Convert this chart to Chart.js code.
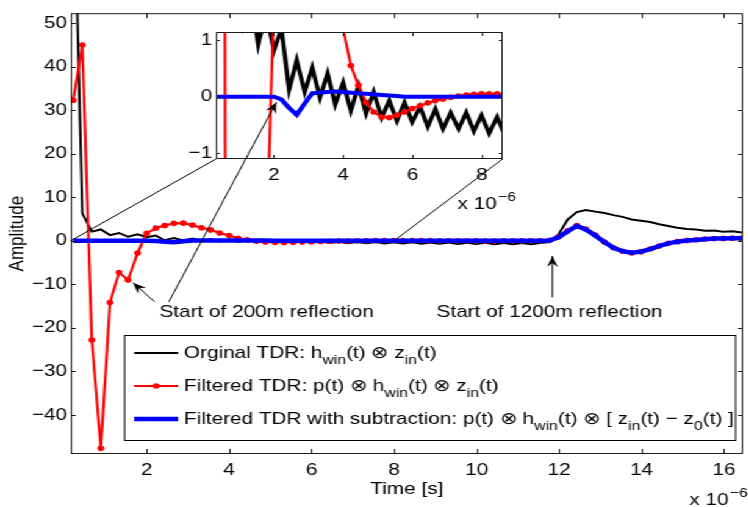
<!DOCTYPE html>
<html>
<head>
<meta charset="utf-8">
<script src="https://cdn.jsdelivr.net/npm/chart.js@4.4.1/dist/chart.umd.min.js"></script>
<style>
  html, body { margin: 0; padding: 0; background: #fff; overflow: hidden; }
  /* the reference figure is stretched sideways, so we draw narrower and widen it */
  #wrap { position: relative; width: 613px; height: 507px; transform: scaleX(1.22); transform-origin: 0 0; }
  #wrap canvas { position: absolute; left: 0; top: 0; }
</style>
</head>
<body>
<div id="wrap">
  <canvas id="main" width="613" height="507"></canvas>
  <canvas id="inset" width="613" height="507"></canvas>
</div>
<script>
// time axis in microseconds (axis shows "x 10^-6")
const timeUs = [0.22, 0.44, 0.67, 0.89, 1.11, 1.33, 1.55, 1.78, 2.00, 2.22,
  2.44, 2.66, 2.89, 3.11, 3.33, 3.55, 3.77, 4.00, 4.22, 4.44,
  4.66, 4.88, 5.11, 5.33, 5.55, 5.77, 5.99, 6.22, 6.44, 6.66,
  6.88, 7.10, 7.33, 7.55, 7.77, 7.99, 8.21, 8.44, 8.66, 8.88,
  9.10, 9.32, 9.55, 9.77, 9.99, 10.21, 10.43, 10.66, 10.88, 11.10,
  11.32, 11.54, 11.77, 11.99, 12.21, 12.43, 12.65, 12.88, 13.10, 13.32,
  13.54, 13.76, 13.99, 14.21, 14.43, 14.65, 14.87, 15.10, 15.32, 15.54,
  15.76, 15.98, 16.21, 16.43];

const originalTdr = [90, 6.3, 2.1, 2.6, 1.3, 1.8, 0.92, 1.5, 0.81, 1.2,
  0.12, 0.64, 0.08, 0.51, -0.02, 0.41, -0.14, 0.25, -0.25, 0.19,
  -0.30, 0.08, -0.37, -0.07, -0.43, -0.10, -0.45, -0.18, -0.53, -0.22,
  -0.57, -0.28, -0.57, -0.28, -0.61, -0.33, -0.65, -0.36, -0.68, -0.40,
  -0.70, -0.42, -0.72, -0.45, -0.75, -0.45, -0.78, -0.50, -0.78, -0.50,
  -0.80, -0.52, -0.30, 1.5, 4.9, 6.6, 7.05, 6.7, 6.4, 5.9,
  5.5, 4.9, 4.6, 4.3, 3.8, 3.4, 3.0, 2.7, 2.6, 2.3,
  2.35, 2.1, 2.2, 1.9];

const filteredTdr = [32.3, 45, -22.8, -47.7, -14.2, -7.3, -9.0, -2.8, 1.7, 2.9,
  3.5, 4.0, 4.05, 3.6, 3.0, 2.5, 1.8, 1.2, 0.55, 0.2,
  -0.1, -0.27, -0.36, -0.37, -0.33, -0.27, -0.21, -0.16, -0.11, -0.07,
  -0.04, -0.01, 0.01, 0.03, 0.04, 0.05, 0.05, 0.05, 0.04, 0.03,
  0.02, 0.01, 0, -0.02, -0.03, -0.04, -0.04, -0.03, -0.02, -0.01,
  0, 0, 0.1, 0.9, 2.3, 3.5, 2.7, 1.3, -0.3, -1.6,
  -2.4, -2.8, -2.5, -1.9, -1.2, -0.6, -0.2, 0.05, 0.25, 0.4,
  0.5, 0.55, 0.6, 0.6];

const subtractedTdr = [0, 0, 0, 0, 0, 0, 0, 0, 0, -0.05,
  -0.2, -0.32, -0.12, 0.06, 0.07, 0.08, 0.09, 0.08, 0.07, 0.06,
  0.05, 0.04, 0.03, 0.02, 0.01, 0, 0, 0, 0, 0,
  0, 0, 0, 0, 0, 0, 0, 0, 0, 0,
  0, 0, 0, 0, 0, 0, 0, 0, 0, 0,
  0, 0, 0.05, 0.8, 2.2, 3.4, 2.6, 1.2, -0.3, -1.6,
  -2.4, -2.75, -2.5, -1.9, -1.2, -0.6, -0.2, 0.05, 0.2, 0.35,
  0.5, 0.55, 0.6, 0.6];

const mainXTicks = [2, 4, 6, 8, 10, 12, 14, 16];
const mainYTicks = [-40, -30, -20, -10, 0, 10, 20, 30, 40, 50];
const insetXTicks = [2, 4, 6, 8];
const insetYTicks = [-1, 0, 1];

const FAMILY = '"Liberation Sans", Arial, Helvetica, sans-serif';
const FONT = { family: FAMILY, size: 17 };
const FONT_CSS = '17px ' + FAMILY;
const SUB_CSS = '13px ' + FAMILY;

const legendItems = [
  { color: '#000000', width: 2, dot: false,
    parts: [['Orginal TDR: h'], ['win', 1], ['(t) \u2297 z'], ['in', 1], ['(t)']] },
  { color: '#ff0000', width: 2.2, dot: true,
    parts: [['Filtered TDR: p(t) \u2297 h'], ['win', 1], ['(t) \u2297 z'], ['in', 1], ['(t)']] },
  { color: '#0000ff', width: 4.5, dot: false,
    parts: [['Filtered TDR with subtraction: p(t) \u2297 h'], ['win', 1], ['(t) \u2297 [ z'], ['in', 1], ['(t) \u2212 z'], ['0', 1], ['(t) ]']] }
];

function toPoints(values) {
  return values.map((v, i) => ({ x: timeUs[i], y: v }));
}
function minus(v) {
  return String(v).replace('-', '\u2212');
}

function makeDatasets(blackW, blueW) {
  return [
    { label: 'Orginal TDR', data: toPoints(originalTdr), borderColor: '#000000',
      borderWidth: blackW, pointRadius: 0, clip: 0, order: 3 },
    { label: 'Filtered TDR', data: toPoints(filteredTdr), borderColor: '#ff0000',
      backgroundColor: '#ff0000', borderWidth: 2.2, pointRadius: 2.8, pointBorderWidth: 0, clip: 0, order: 2 },
    { label: 'Filtered TDR with subtraction', data: toPoints(subtractedTdr), borderColor: '#0000ff',
      borderWidth: blueW, pointRadius: 0, clip: 0, order: 1 }
  ];
}

function makeScale(min, max, ticks, fit, pad, extra) {
  return Object.assign({
    type: 'linear', min: min, max: max,
    grid: { display: false, drawTicks: false },
    border: { display: false },
    afterBuildTicks: s => { s.ticks = ticks.map(v => ({ value: v })); },
    afterFit: fit,
    ticks: { font: FONT, color: '#000', padding: pad, maxRotation: 0, autoSkip: false, callback: minus }
  }, extra);
}

function framePlugin(tickLen) {
  return {
    id: 'frame',
    afterDatasetsDraw(chart) {
      const { ctx, chartArea: a, scales: { x, y } } = chart;
      ctx.save();
      ctx.strokeStyle = '#1a1a1a';
      ctx.lineWidth = 1;
      ctx.beginPath();
      x.ticks.forEach(t => {
        const px = Math.round(x.getPixelForValue(t.value)) + 0.5;
        ctx.moveTo(px, a.bottom); ctx.lineTo(px, a.bottom - tickLen);
        ctx.moveTo(px, a.top); ctx.lineTo(px, a.top + tickLen);
      });
      y.ticks.forEach(t => {
        const py = Math.round(y.getPixelForValue(t.value)) + 0.5;
        ctx.moveTo(a.left, py); ctx.lineTo(a.left + tickLen * 0.8, py);
        ctx.moveTo(a.right, py); ctx.lineTo(a.right - tickLen * 0.8, py);
      });
      ctx.stroke();
      ctx.strokeRect(a.left + 0.5, a.top + 0.5, a.right - a.left - 1, a.bottom - a.top - 1);
      ctx.restore();
    }
  };
}

function timesTen(ctx, x, y) {
  ctx.font = FONT_CSS;
  ctx.textAlign = 'left';
  ctx.textBaseline = 'alphabetic';
  ctx.fillStyle = '#000';
  ctx.fillText('x 10', x, y);
  const w = ctx.measureText('x 10').width;
  ctx.font = SUB_CSS;
  ctx.fillText('\u22126', x + w + 1, y - 8);
}

function richText(ctx, x, y, parts) {
  let cx = x;
  parts.forEach(p => {
    ctx.font = p[1] ? SUB_CSS : FONT_CSS;
    ctx.fillText(p[0], cx, p[1] ? y + 7 : y);
    cx += ctx.measureText(p[0]).width;
  });
}

function arrow(ctx, x1, y1, x2, y2, head) {
  ctx.beginPath();
  ctx.moveTo(x1, y1);
  ctx.lineTo(x2, y2);
  ctx.stroke();
  if (!head) return;
  const ang = Math.atan2(y2 - y1, x2 - x1);
  const c = Math.cos(ang), s = Math.sin(ang);
  const L = 11, W = 4.5, notch = 7;
  ctx.beginPath();
  ctx.moveTo(x2, y2);
  ctx.lineTo(x2 - L * c - W * s, y2 - L * s + W * c);
  ctx.lineTo(x2 - notch * c, y2 - notch * s);
  ctx.lineTo(x2 - L * c + W * s, y2 - L * s - W * c);
  ctx.closePath();
  ctx.fill();
}

const mainChart = new Chart('main', {
  type: 'line',
  data: { datasets: makeDatasets(2, 4.5) },
  options: {
    responsive: false,
    animation: false,
    events: [],
    layout: { padding: { top: 13, right: 2, left: 0, bottom: 0 } },
    plugins: { legend: { display: false }, tooltip: { enabled: false } },
    scales: {
      x: makeScale(0.16, 16.46, mainXTicks, s => { s.height = 53; }, 6, {
        title: { display: true, text: 'Time [s]', color: '#000', font: FONT, padding: { top: 0, bottom: 7 } }
      }),
      y: makeScale(-49, 52.3, mainYTicks, s => { s.width = 58; }, 3, {
        title: { display: true, text: 'Amplitude', color: '#000', font: FONT, padding: { top: 4, bottom: 0 } }
      })
    }
  },
  plugins: [framePlugin(5), {
    id: 'legendBox',
    afterDraw(chart) {
      const { ctx, chartArea: a } = chart;
      ctx.save();
      const left = 101.6, top = 335, right = 602.5, bottom = 440;
      ctx.fillStyle = '#fff';
      ctx.fillRect(left, top, right - left, bottom - top);
      ctx.strokeStyle = '#000';
      ctx.lineWidth = 1;
      ctx.strokeRect(left + 0.5, top + 0.5, right - left, bottom - top);
      const rows = [353, 386, 419];
      legendItems.forEach((item, i) => {
        const yy = rows[i];
        ctx.strokeStyle = item.color;
        ctx.lineWidth = item.width;
        ctx.beginPath();
        ctx.moveTo(110, yy);
        ctx.lineTo(146, yy);
        ctx.stroke();
        if (item.dot) {
          ctx.fillStyle = item.color;
          ctx.beginPath();
          ctx.arc(128, yy, 2.8, 0, Math.PI * 2);
          ctx.fill();
        }
        ctx.fillStyle = '#000';
        ctx.textAlign = 'left';
        ctx.textBaseline = 'middle';
        richText(ctx, 150.8, yy, item.parts);
      });
      timesTen(ctx, a.right - 44, 505);
      ctx.restore();
    }
  }]
});

new Chart('inset', {
  type: 'line',
  data: { datasets: makeDatasets(3.5, 4) },
  options: {
    responsive: false,
    animation: false,
    events: [],
    layout: { padding: { top: 32, right: 201, left: 152, bottom: 318 } },
    plugins: { legend: { display: false }, tooltip: { enabled: false } },
    scales: {
      x: makeScale(0.33, 8.6, insetXTicks, s => { s.height = 30; }, 6),
      y: makeScale(-1.1, 1.14, insetYTicks, s => { s.width = 25; }, 3)
    }
  },
  plugins: [framePlugin(4), {
    id: 'insetOverlay',
    beforeDraw(chart) {
      const { ctx, chartArea: a } = chart;
      ctx.save();
      ctx.fillStyle = '#fff';
      ctx.fillRect(a.left, a.top, a.right - a.left, a.bottom - a.top);
      ctx.restore();
    },
    afterDraw(chart) {
      const { ctx, chartArea: a } = chart;
      const mx = mainChart.scales.x, my = mainChart.scales.y;
      const ix = chart.scales.x, iy = chart.scales.y;
      ctx.save();
      ctx.strokeStyle = '#000';
      ctx.fillStyle = '#000';
      ctx.lineWidth = 1;
      // zoom lines from the inset to the main axes
      arrow(ctx, a.left, a.bottom, mx.getPixelForValue(0.16), my.getPixelForValue(0), false);
      arrow(ctx, a.right, a.bottom, mx.getPixelForValue(8.0), my.getPixelForValue(0), false);
      // annotations
      arrow(ctx, mx.getPixelForValue(2.19), my.getPixelForValue(-14.0),
        mx.getPixelForValue(1.67), my.getPixelForValue(-9.65), true);
      arrow(ctx, mx.getPixelForValue(2.54), my.getPixelForValue(-14.0),
        ix.getPixelForValue(2.07), iy.getPixelForValue(-0.1), true);
      arrow(ctx, mx.getPixelForValue(11.84), my.getPixelForValue(-13.0),
        mx.getPixelForValue(11.84), my.getPixelForValue(-3.5), true);
      ctx.font = FONT_CSS;
      ctx.textAlign = 'left';
      ctx.textBaseline = 'middle';
      ctx.fillText('Start of 200m reflection', mx.getPixelForValue(2.31), my.getPixelForValue(-16.4));
      ctx.fillText('Start of 1200m reflection', mx.getPixelForValue(9.03), my.getPixelForValue(-16.4));
      timesTen(ctx, a.right - 37, a.bottom + 50);
      ctx.restore();
    }
  }]
});
</script>
</body>
</html>
